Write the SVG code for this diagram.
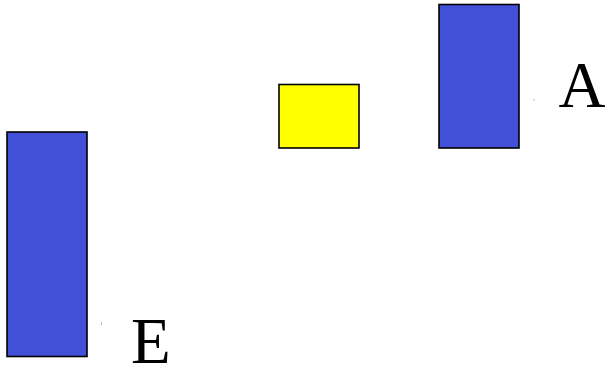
<svg xmlns="http://www.w3.org/2000/svg" width="608" height="366" viewBox="0 0 608 366">
<style>
.blue{fill:#4350d8;stroke:#000;stroke-width:1.6}
.yellow{fill:#ffff00;stroke:#000;stroke-width:1.6}
.lbl{font-family:"Liberation Serif","Times New Roman",serif;font-size:65px;fill:#000}
.tick{stroke:#bbb;stroke-width:1}
</style>
<rect width="608" height="366" fill="#fff"/>
<g id="E">
<rect class="blue" x="7" y="132" width="80" height="224.5"/>
<line class="tick" x1="101.5" y1="322" x2="101.5" y2="325"/>
<text class="lbl" x="131" y="362.5">E</text>
</g>
<g id="Y">
<rect class="yellow" x="279" y="84.5" width="80" height="63.5"/>
</g>
<g id="A">
<rect class="blue" x="439" y="4.5" width="80" height="143.5"/>
<line class="tick" x1="534" y1="98.5" x2="534" y2="101"/>
<text class="lbl" x="558.5" y="107">A</text>
</g>
<g id="connectors"></g>
</svg>
